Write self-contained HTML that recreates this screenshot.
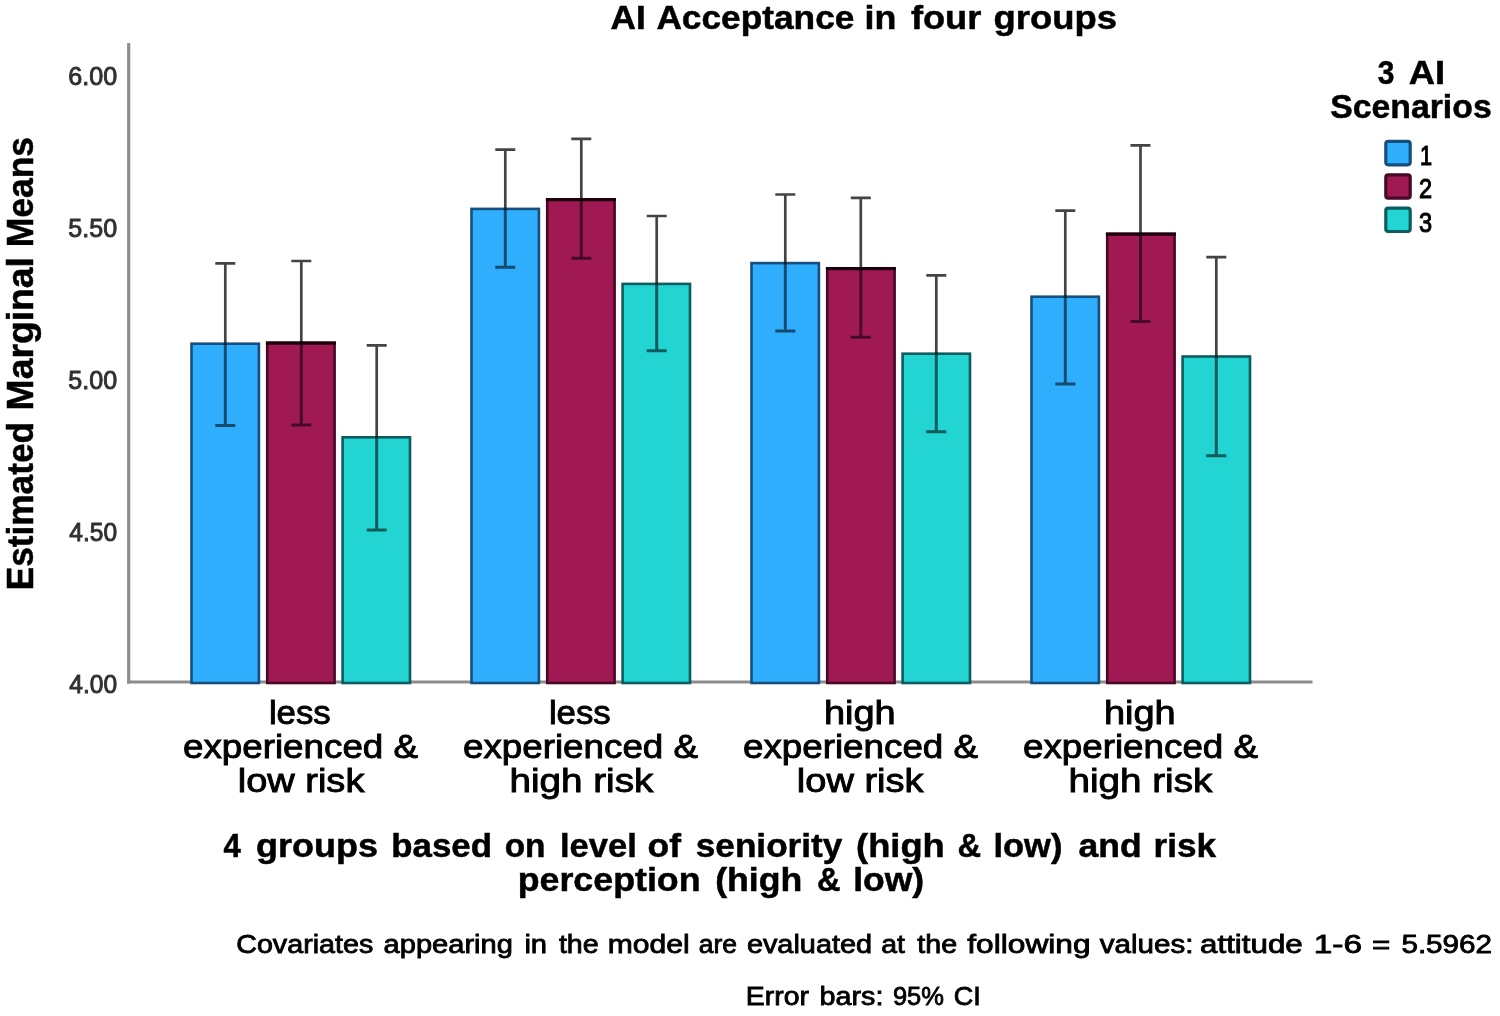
<!DOCTYPE html>
<html lang="en"><head><meta charset="utf-8"><title>AI Acceptance in four groups</title>
<style>
html,body{margin:0;padding:0;background:#fff;}
body{width:1500px;height:1016px;overflow:hidden;font-family:"Liberation Sans",sans-serif;}
svg{display:block;filter:blur(0.75px);}
text{font-family:"Liberation Sans",sans-serif;fill:#000;stroke:#000;}
.b{font-weight:bold;stroke-width:0.5;}
.r{stroke-width:0.9;}
.f{stroke-width:0.8;}
.l{stroke-width:1.1;}
.t{fill:#303030;stroke:#303030;stroke-width:0.9;}
#errors{mix-blend-mode:multiply;}
</style></head><body>
<svg width="1500" height="1016" viewBox="0 0 1500 1016">
<rect x="-5" y="-5" width="1510" height="1026" fill="#ffffff"/>
<g id="axes" stroke="#8c8c8c" stroke-width="3.2" fill="none">
<line x1="128.7" y1="43" x2="128.7" y2="683.6"/>
<line x1="127.1" y1="682" x2="1312.5" y2="682"/>
</g>
<g id="bars" stroke-width="2.6">
<rect x="191.5" y="343.7" width="67.4" height="339.3" fill="#30aefe" stroke="#174f7c"/>
<rect x="267.2" y="342.8" width="67.4" height="340.2" fill="#a11952" stroke="#470925"/>
<line x1="265.9" y1="343.1" x2="335.9" y2="343.1" stroke="#1c000c" stroke-width="3.2"/>
<rect x="342.6" y="437.3" width="67.4" height="245.7" fill="#23d5d2" stroke="#0d5c60"/>
<rect x="471.5" y="208.9" width="67.4" height="474.1" fill="#30aefe" stroke="#174f7c"/>
<rect x="547.2" y="199.3" width="67.4" height="483.7" fill="#a11952" stroke="#470925"/>
<line x1="545.9" y1="199.6" x2="615.9" y2="199.6" stroke="#1c000c" stroke-width="3.2"/>
<rect x="622.6" y="283.9" width="67.4" height="399.1" fill="#23d5d2" stroke="#0d5c60"/>
<rect x="751.5" y="263.1" width="67.4" height="419.9" fill="#30aefe" stroke="#174f7c"/>
<rect x="827.2" y="268.3" width="67.4" height="414.7" fill="#a11952" stroke="#470925"/>
<line x1="825.9" y1="268.6" x2="895.9" y2="268.6" stroke="#1c000c" stroke-width="3.2"/>
<rect x="902.6" y="353.7" width="67.4" height="329.3" fill="#23d5d2" stroke="#0d5c60"/>
<rect x="1031.5" y="296.7" width="67.4" height="386.3" fill="#30aefe" stroke="#174f7c"/>
<rect x="1107.2" y="233.9" width="67.4" height="449.1" fill="#a11952" stroke="#470925"/>
<line x1="1105.9" y1="234.2" x2="1175.9" y2="234.2" stroke="#1c000c" stroke-width="3.2"/>
<rect x="1182.6" y="356.5" width="67.4" height="326.5" fill="#23d5d2" stroke="#0d5c60"/>
</g>
<g id="errors" fill="none">
<g stroke="#444444" stroke-width="2.7">
<path d="M215.3 263.4H235.3M225.3 263.4V343.4"/>
<path d="M291.3 261.0H311.3M301.3 261.0V342.5"/>
<path d="M366.7 345.4H386.7M376.7 345.4V437.0"/>
<path d="M495.3 149.7H515.3M505.3 149.7V208.6"/>
<path d="M571.3 138.9H591.3M581.3 138.9V199.0"/>
<path d="M646.7 216.0H666.7M656.7 216.0V283.6"/>
<path d="M775.3 194.5H795.3M785.3 194.5V262.8"/>
<path d="M850.8 197.9H870.8M860.8 197.9V268.0"/>
<path d="M926.3 275.4H946.3M936.3 275.4V353.4"/>
<path d="M1055.3 210.7H1075.3M1065.3 210.7V296.4"/>
<path d="M1130.5 145.3H1150.5M1140.5 145.3V233.6"/>
<path d="M1206.3 257.1H1226.3M1216.3 257.1V356.2"/>
</g>
<g stroke="#6e6e6e" stroke-width="3.0">
<path d="M225.3 343.4V425.4M215.3 425.4H235.3"/>
<path d="M301.3 342.5V425.0M291.3 425.0H311.3"/>
<path d="M376.7 437.0V530.0M366.7 530.0H386.7"/>
<path d="M505.3 208.6V267.3M495.3 267.3H515.3"/>
<path d="M581.3 199.0V258.3M571.3 258.3H591.3"/>
<path d="M656.7 283.6V350.8M646.7 350.8H666.7"/>
<path d="M785.3 262.8V331.0M775.3 331.0H795.3"/>
<path d="M860.8 268.0V337.2M850.8 337.2H870.8"/>
<path d="M936.3 353.4V431.7M926.3 431.7H946.3"/>
<path d="M1065.3 296.4V384.0M1055.3 384.0H1075.3"/>
<path d="M1140.5 233.6V321.5M1130.5 321.5H1150.5"/>
<path d="M1216.3 356.2V455.7M1206.3 455.7H1226.3"/>
</g>
</g>
<text class="b" y="29.2" font-size="32.5"><tspan x="610.5" textLength="35.2" lengthAdjust="spacingAndGlyphs">AI</tspan> <tspan x="656.4" textLength="198.0" lengthAdjust="spacingAndGlyphs">Acceptance</tspan> <tspan x="864.6" textLength="31.8" lengthAdjust="spacingAndGlyphs">in</tspan> <tspan x="910.9" textLength="70.4" lengthAdjust="spacingAndGlyphs">four</tspan> <tspan x="993.5" textLength="123.5" lengthAdjust="spacingAndGlyphs">groups</tspan></text>
<g transform="translate(32.8,590) rotate(-90)">
<text class="b" y="0.0" font-size="37.2"><tspan x="-0.3" textLength="168.3" lengthAdjust="spacingAndGlyphs">Estimated</tspan> <tspan x="179.6" textLength="153.3" lengthAdjust="spacingAndGlyphs">Marginal</tspan> <tspan x="342.7" textLength="110.4" lengthAdjust="spacingAndGlyphs">Means</tspan></text>
</g>
<text class="t" y="84.9" font-size="25.2"><tspan x="68.3" textLength="48.8" lengthAdjust="spacingAndGlyphs">6.00</tspan></text>
<text class="t" y="236.9" font-size="25.2"><tspan x="68.3" textLength="48.8" lengthAdjust="spacingAndGlyphs">5.50</tspan></text>
<text class="t" y="388.9" font-size="25.2"><tspan x="68.3" textLength="48.8" lengthAdjust="spacingAndGlyphs">5.00</tspan></text>
<text class="t" y="540.9" font-size="25.2"><tspan x="69.3" textLength="47.8" lengthAdjust="spacingAndGlyphs">4.50</tspan></text>
<text class="t" y="692.6" font-size="25.2"><tspan x="69.3" textLength="47.8" lengthAdjust="spacingAndGlyphs">4.00</tspan></text>
<text class="r" x="268.9" y="724.4" font-size="33" textLength="61.8" lengthAdjust="spacingAndGlyphs">less</text>
<text class="r" x="183.0" y="758.0" font-size="32.5" textLength="235.0" lengthAdjust="spacingAndGlyphs">experienced &amp;</text>
<text class="r" x="237.7" y="791.7" font-size="32.5" textLength="126.7" lengthAdjust="spacingAndGlyphs">low risk</text>
<text class="r" x="548.9" y="724.4" font-size="33" textLength="61.8" lengthAdjust="spacingAndGlyphs">less</text>
<text class="r" x="463.0" y="758.0" font-size="32.5" textLength="235.0" lengthAdjust="spacingAndGlyphs">experienced &amp;</text>
<text class="r" x="509.4" y="791.7" font-size="32.5" textLength="144.0" lengthAdjust="spacingAndGlyphs">high risk</text>
<text class="r" x="823.9" y="724.4" font-size="33" textLength="71.8" lengthAdjust="spacingAndGlyphs">high</text>
<text class="r" x="743.0" y="758.0" font-size="32.5" textLength="235.0" lengthAdjust="spacingAndGlyphs">experienced &amp;</text>
<text class="r" x="796.8" y="791.7" font-size="32.5" textLength="126.7" lengthAdjust="spacingAndGlyphs">low risk</text>
<text class="r" x="1103.9" y="724.4" font-size="33" textLength="71.8" lengthAdjust="spacingAndGlyphs">high</text>
<text class="r" x="1023.0" y="758.0" font-size="32.5" textLength="235.0" lengthAdjust="spacingAndGlyphs">experienced &amp;</text>
<text class="r" x="1068.4" y="791.7" font-size="32.5" textLength="144.0" lengthAdjust="spacingAndGlyphs">high risk</text>
<text class="b" y="857.4" font-size="33"><tspan x="223.4" textLength="17.3" lengthAdjust="spacingAndGlyphs">4</tspan> <tspan x="256.1" textLength="121.9" lengthAdjust="spacingAndGlyphs">groups</tspan> <tspan x="391.2" textLength="100.8" lengthAdjust="spacingAndGlyphs">based</tspan> <tspan x="504.7" textLength="40.8" lengthAdjust="spacingAndGlyphs">on</tspan> <tspan x="559.9" textLength="76.9" lengthAdjust="spacingAndGlyphs">level</tspan> <tspan x="647.6" textLength="33.4" lengthAdjust="spacingAndGlyphs">of</tspan> <tspan x="695.8" textLength="146.5" lengthAdjust="spacingAndGlyphs">seniority</tspan> <tspan x="856.1" textLength="88.7" lengthAdjust="spacingAndGlyphs">(high</tspan> <tspan x="957.6" textLength="23.6" lengthAdjust="spacingAndGlyphs">&amp;</tspan> <tspan x="993.5" textLength="68.9" lengthAdjust="spacingAndGlyphs">low)</tspan> <tspan x="1078.6" textLength="63.1" lengthAdjust="spacingAndGlyphs">and</tspan> <tspan x="1153.5" textLength="62.5" lengthAdjust="spacingAndGlyphs">risk</tspan></text>
<text class="b" y="890.5" font-size="33"><tspan x="517.7" textLength="182.9" lengthAdjust="spacingAndGlyphs">perception</tspan> <tspan x="715.2" textLength="87.1" lengthAdjust="spacingAndGlyphs">(high</tspan> <tspan x="817.1" textLength="23.5" lengthAdjust="spacingAndGlyphs">&amp;</tspan> <tspan x="853.2" textLength="71.0" lengthAdjust="spacingAndGlyphs">low)</tspan></text>
<text class="f" y="953.0" font-size="25"><tspan x="236.2" textLength="137.1" lengthAdjust="spacingAndGlyphs">Covariates</tspan> <tspan x="383.6" textLength="129.3" lengthAdjust="spacingAndGlyphs">appearing</tspan> <tspan x="524.4" textLength="22.7" lengthAdjust="spacingAndGlyphs">in</tspan> <tspan x="558.9" textLength="39.8" lengthAdjust="spacingAndGlyphs">the</tspan> <tspan x="607.7" textLength="81.9" lengthAdjust="spacingAndGlyphs">model</tspan> <tspan x="698.7" textLength="38.3" lengthAdjust="spacingAndGlyphs">are</tspan> <tspan x="746.9" textLength="125.2" lengthAdjust="spacingAndGlyphs">evaluated</tspan> <tspan x="881.2" textLength="23.7" lengthAdjust="spacingAndGlyphs">at</tspan> <tspan x="917.3" textLength="39.8" lengthAdjust="spacingAndGlyphs">the</tspan> <tspan x="967.3" textLength="123.2" lengthAdjust="spacingAndGlyphs">following</tspan> <tspan x="1099.8" textLength="93.6" lengthAdjust="spacingAndGlyphs">values:</tspan> <tspan x="1200.1" textLength="102.6" lengthAdjust="spacingAndGlyphs">attitude</tspan> <tspan x="1313.8" textLength="48.2" lengthAdjust="spacingAndGlyphs">1-6</tspan> <tspan x="1371.9" textLength="18.3" lengthAdjust="spacingAndGlyphs">=</tspan> <tspan x="1401.4" textLength="90.7" lengthAdjust="spacingAndGlyphs">5.5962</tspan></text>
<text class="f" y="1004.7" font-size="25"><tspan x="745.8" textLength="63.1" lengthAdjust="spacingAndGlyphs">Error</tspan> <tspan x="819.5" textLength="63.9" lengthAdjust="spacingAndGlyphs">bars:</tspan> <tspan x="892.9" textLength="51.0" lengthAdjust="spacingAndGlyphs">95%</tspan> <tspan x="953.7" textLength="27.0" lengthAdjust="spacingAndGlyphs">CI</tspan></text>
<text class="b" y="84.3" font-size="33"><tspan x="1377.8" textLength="16.7" lengthAdjust="spacingAndGlyphs">3</tspan> <tspan x="1408.8" textLength="36.3" lengthAdjust="spacingAndGlyphs">AI</tspan></text>
<text class="b" y="118.0" font-size="33"><tspan x="1330.2" textLength="161.5" lengthAdjust="spacingAndGlyphs">Scenarios</tspan></text>
<rect x="1385.8" y="141.4" width="24.4" height="23.4" rx="2.5" fill="#30aefe" stroke="#174f7c" stroke-width="3.2"/>
<rect x="1385.8" y="174.8" width="24.4" height="23.4" rx="2.5" fill="#a11952" stroke="#470925" stroke-width="3.2"/>
<rect x="1385.8" y="208.1" width="24.4" height="23.4" rx="2.5" fill="#23d5d2" stroke="#0d5c60" stroke-width="3.2"/>
<text class="l" y="165.0" font-size="28"><tspan x="1419.9" textLength="12.1" lengthAdjust="spacingAndGlyphs">1</tspan></text>
<text class="l" y="198.0" font-size="28"><tspan x="1419.0" textLength="13.1" lengthAdjust="spacingAndGlyphs">2</tspan></text>
<text class="l" y="231.6" font-size="28"><tspan x="1419.0" textLength="13.1" lengthAdjust="spacingAndGlyphs">3</tspan></text>
</svg>
</body></html>
